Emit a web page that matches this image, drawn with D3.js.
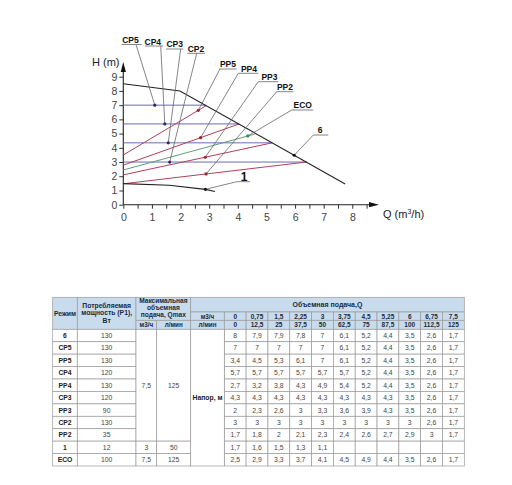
<!DOCTYPE html>
<html>
<head>
<meta charset="utf-8">
<script src="https://cdn.jsdelivr.net/npm/d3@7"></script>
<style>
  body { margin: 0; background: #fff; }
  svg { display: block; font-family: "Liberation Sans", Arial, sans-serif; }
</style>
</head>
<body>
<div id="chart"></div>
<script>
// ---- chart data: Q (m3/h), H (m)
const qTicks = [0, 1, 2, 3, 4, 5, 6, 7, 8];
const qMinorTicks = [0, 0.5, 1, 1.5, 2, 2.5, 3, 3.5, 4, 4.5, 5, 5.5, 6, 6.5, 7, 7.5, 8, 8.5];
const hTicks = [0, 1, 2, 3, 4, 5, 6, 7, 8, 9];

const curve6   = [[0, 8.5], [1.98, 8.0], [7.75, 1.46]];
const curveCP5 = [[0, 7.0], [2.88, 7.0]];
const curveCP4 = [[0, 5.68], [4.05, 5.68]];
const curveCP3 = [[0, 4.35], [5.2, 4.35]];
const curveCP2 = [[0, 3.0], [6.4, 3.0]];
const curvePP5 = [[0, 3.5], [2.9, 6.97]];
const curvePP4 = [[0, 2.78], [4.05, 5.68]];
const curveECO = [[0, 2.44], [4.6, 4.97]];
const curvePP3 = [[0, 2.1], [5.2, 4.35]];
const curvePP2 = [[0, 1.47], [6.4, 3.0]];
const curve1   = [[0, 1.48], [1.6, 1.37], [2.87, 1.08], [3.2, 0.93]];

const curveNames  = ['CP5', 'CP4', 'CP3', 'CP2', 'PP5', 'PP4', 'ECO', 'PP3', 'PP2', '6', '1'];
const curveKinds  = ['cp', 'cp', 'cp', 'cp', 'pp', 'pp', 'eco', 'pp', 'pp', 'max', 'min'];
const curveData   = [curveCP5, curveCP4, curveCP3, curveCP2, curvePP5, curvePP4, curveECO, curvePP3, curvePP2, curve6, curve1];
const markerQ     = [1.1, 1.45, 1.57, 1.62, 2.62, 2.7, 4.35, 2.86, 2.89, 5.97, 2.87];

// ---- table data
const modes   = ['6', 'CP5', 'PP5', 'CP4', 'PP4', 'CP3', 'PP3', 'CP2', 'PP2', '1', 'ECO'];
const powerW  = [130, 130, 130, 120, 130, 120, 90, 130, 35, 12, 100];
const flowM3h = [0, 0.75, 1.5, 2.25, 3, 3.75, 4.5, 5.25, 6, 6.75, 7.5];
const flowLmin = [0, 12.5, 25, 37.5, 50, 62.5, 75, 87.5, 100, 112.5, 125];
const qmaxM3h  = [7.5, 3, 7.5];
const qmaxLmin = [125, 50, 125];
const qmaxSpan = [[0, 8], [9, 9], [10, 10]];
const headRows = [
  [8, 7.9, 7.9, 7.8, 7, 6.1, 5.2, 4.4, 3.5, 2.6, 1.7],
  [7, 7, 7, 7, 7, 6.1, 5.2, 4.4, 3.5, 2.6, 1.7],
  [3.4, 4.5, 5.3, 6.1, 7, 6.1, 5.2, 4.4, 3.5, 2.6, 1.7],
  [5.7, 5.7, 5.7, 5.7, 5.7, 5.7, 5.2, 4.4, 3.5, 2.6, 1.7],
  [2.7, 3.2, 3.8, 4.3, 4.9, 5.4, 5.2, 4.4, 3.5, 2.6, 1.7],
  [4.3, 4.3, 4.3, 4.3, 4.3, 4.3, 4.3, 4.3, 3.5, 2.6, 1.7],
  [2, 2.3, 2.6, 3, 3.3, 3.6, 3.9, 4.3, 3.5, 2.6, 1.7],
  [3, 3, 3, 3, 3, 3, 3, 3, 3, 2.6, 1.7],
  [1.7, 1.8, 2, 2.1, 2.3, 2.4, 2.6, 2.7, 2.9, 3, 1.7],
  [1.7, 1.6, 1.5, 1.3, 1.1, null, null, null, null, null, null],
  [2.5, 2.9, 3.3, 3.7, 4.1, 4.5, 4.9, 4.4, 3.5, 2.6, 1.7]
];

// ---- styles / layout
const lineColor = { cp: '#6a6ab4', pp: '#b0405a', eco: '#5e9e78', max: '#222', min: '#222' };
const dotColor  = { cp: '#2a2a70', pp: '#a02030', eco: '#3c8a5a', max: '#111', min: '#111' };
// callout: text x, text y (centre), underline x1, x2, y, leader start x
const callout = {
  CP5: [130.5, 39.5, 121.7, 141.7, 44.5, 136],
  CP4: [152.8, 41.7, 145, 163.3, 46, 160.7],
  CP3: [174.7, 44.3, 166, 183.3, 49, 180.7],
  CP2: [196, 49, 187.3, 205, 53.3, 196.7],
  PP5: [228, 64.3, 219.3, 236.7, 69, 220],
  PP4: [249, 69, 238.3, 258.3, 73.3, 238.3],
  PP3: [269.5, 76.7, 258.3, 278.3, 81.7, 258.3],
  PP2: [285, 87.3, 276.7, 293.3, 91.7, 276.7],
  ECO: [302.7, 105, 291.7, 313.3, 110, 291.7],
  '6': [320, 130, 313.3, 328.3, 135, 313.3],
  '1': [244, 176.5, 236.7, 250, 181.7, 236.7]
};

const W = 512, H = 485;
const svg = d3.select('#chart').append('svg').attr('width', W).attr('height', H);

const x = d3.scaleLinear().domain([0, 8]).range([123.3, 352.3]);
const y = d3.scaleLinear().domain([0, 9]).range([204.7, 76.7]);

// axes
const xAxis = svg.append('g')
  .attr('transform', `translate(0,${y(0)})`)
  .call(d3.axisBottom(x).tickValues(qMinorTicks).tickSize(4).tickPadding(5)
    .tickFormat(d => qTicks.includes(d) ? d : ''));
const yAxis = svg.append('g')
  .attr('transform', `translate(${x(0)},0)`)
  .call(d3.axisLeft(y).tickValues(hTicks).tickSize(4).tickPadding(2));
[xAxis, yAxis].forEach(g => {
  g.select('.domain').remove();
  g.selectAll('line').attr('stroke', '#333');
  g.selectAll('text').attr('font-size', 10.5).attr('fill', '#444')
    .attr('font-family', '"Liberation Sans", Arial, sans-serif');
});

svg.append('line').attr('x1', x(0)).attr('x2', x(0)).attr('y1', y(0)).attr('y2', 68)
  .attr('stroke', '#222').attr('stroke-width', 1.1);
svg.append('path').attr('d', `M${x(0)},62 L${x(0) - 2.6},72 L${x(0) + 2.6},72 Z`).attr('fill', '#111');
svg.append('line').attr('x1', x(0)).attr('x2', 372).attr('y1', y(0)).attr('y2', y(0))
  .attr('stroke', '#222').attr('stroke-width', 1.1);
svg.append('path').attr('d', `M379,${y(0)} L369,${y(0) - 2.6} L369,${y(0) + 2.6} Z`).attr('fill', '#111');

svg.append('text').attr('x', 92).attr('y', 66).attr('font-size', 11).attr('fill', '#222').text('H (m)');
const qLabel = svg.append('text').attr('x', 383).attr('y', 218).attr('font-size', 11).attr('fill', '#222');
qLabel.append('tspan').text('Q (m');
qLabel.append('tspan').attr('font-size', 7).attr('dy', -4).text('3');
qLabel.append('tspan').attr('dy', 4).text('/h)');

// curves
const line = d3.line().x(d => x(d[0])).y(d => y(d[1]));
curveData.forEach((pts, i) => {
  const k = curveKinds[i];
  svg.append('path').datum(pts).attr('d', line).attr('fill', 'none')
    .attr('stroke', lineColor[k]).attr('stroke-width', k === 'max' || k === 'min' ? 1.1 : 1);
});

function hAt(pts, q) {
  for (let j = 1; j < pts.length; j++) {
    if (q <= pts[j][0]) {
      const t = (q - pts[j - 1][0]) / (pts[j][0] - pts[j - 1][0]);
      return pts[j - 1][1] + t * (pts[j][1] - pts[j - 1][1]);
    }
  }
  return pts[pts.length - 1][1];
}

// callouts
curveNames.forEach((name, i) => {
  const c = callout[name];
  const k = curveKinds[i];
  const mq = markerQ[i], mh = hAt(curveData[i], mq);
  svg.append('line').attr('x1', c[5]).attr('y1', c[4]).attr('x2', x(mq)).attr('y2', y(mh))
    .attr('stroke', '#666').attr('stroke-width', 0.8);
  svg.append('line').attr('x1', c[2]).attr('x2', c[3]).attr('y1', c[4]).attr('y2', c[4])
    .attr('stroke', '#666').attr('stroke-width', 0.8);
  svg.append('circle').attr('cx', x(mq)).attr('cy', y(mh)).attr('r', 1.6).attr('fill', dotColor[k]);
  svg.append('text').attr('x', c[0]).attr('y', c[1]).attr('text-anchor', 'middle')
    .attr('dominant-baseline', 'central').attr('font-weight', 'bold')
    .attr('font-size', name === '1' ? 12 : 8.5).attr('fill', '#111').text(name);
});

// ---- table
const fmt = v => v == null ? '' : String(v).replace('.', ',');
const colX = [52.7, 77.3, 136, 156.7, 190.7, 224.3];
const qColW = (464.3 - 224.3) / flowM3h.length;
flowM3h.forEach((d, i) => colX.push(224.3 + (i + 1) * qColW));
const hdrY = [297.3, 312, 320.3, 329.3];
const rowH = (466 - 329.3) / modes.length;
const rowY = d3.range(modes.length + 1).map(i => 329.3 + i * rowH);

const tbl = svg.append('g');
const hdrFill = '#c9dcee', gridCol = '#9a9a9a', hdrText = '#1c2b3a';

function cell(x0, x1, y0, y1, fill) {
  tbl.append('rect').attr('x', x0).attr('y', y0).attr('width', x1 - x0).attr('height', y1 - y0)
    .attr('fill', fill).attr('stroke', gridCol).attr('stroke-width', 0.7);
}
function txt(cx, cy, s, opts = {}) {
  tbl.append('text').attr('x', cx).attr('y', cy).attr('text-anchor', 'middle')
    .attr('dominant-baseline', 'central').attr('font-size', opts.size || 6.8)
    .attr('font-weight', opts.bold ? 'bold' : 'normal').attr('fill', opts.color || '#444').text(s);
}
const mid = (a, b) => (a + b) / 2;

// header
cell(colX[0], colX[1], hdrY[0], hdrY[3], hdrFill);
txt(mid(colX[0], colX[1]), 313.3, 'Режим', { bold: true, color: hdrText });
cell(colX[1], colX[2], hdrY[0], hdrY[3], hdrFill);
['Потребляемая', 'мощность (P1),', 'Вт'].forEach((s, i) =>
  txt(mid(colX[1], colX[2]), 305 + i * 7.8, s, { bold: true, color: hdrText }));
cell(colX[2], colX[4], hdrY[0], hdrY[2], hdrFill);
['Максимальная', 'объемная', 'подача, Qmax'].forEach((s, i) =>
  txt(mid(colX[2], colX[4]), 300.6 + i * 6.9, s, { bold: true, color: hdrText, size: 6.6 }));
cell(colX[2], colX[3], hdrY[2], hdrY[3], hdrFill);
txt(mid(colX[2], colX[3]), mid(hdrY[2], hdrY[3]), 'м3/ч', { bold: true, color: hdrText, size: 6.3 });
cell(colX[3], colX[4], hdrY[2], hdrY[3], hdrFill);
txt(mid(colX[3], colX[4]), mid(hdrY[2], hdrY[3]), 'л/мин', { bold: true, color: hdrText, size: 6.3 });
cell(colX[4], colX[colX.length - 1], hdrY[0], hdrY[1], hdrFill);
txt(mid(colX[4], colX[colX.length - 1]), mid(hdrY[0], hdrY[1]), 'Объемная подача,Q', { bold: true, color: hdrText, size: 7 });
cell(colX[4], colX[5], hdrY[1], hdrY[2], hdrFill);
txt(mid(colX[4], colX[5]), mid(hdrY[1], hdrY[2]), 'м3/ч', { bold: true, color: hdrText, size: 6.3 });
cell(colX[4], colX[5], hdrY[2], hdrY[3], hdrFill);
txt(mid(colX[4], colX[5]), mid(hdrY[2], hdrY[3]), 'л/мин', { bold: true, color: hdrText, size: 6.3 });
flowM3h.forEach((q, i) => {
  const a = colX[5 + i], b = colX[6 + i];
  cell(a, b, hdrY[1], hdrY[2], hdrFill);
  txt(mid(a, b), mid(hdrY[1], hdrY[2]), fmt(q), { bold: true, color: hdrText, size: 6.5 });
  cell(a, b, hdrY[2], hdrY[3], hdrFill);
  txt(mid(a, b), mid(hdrY[2], hdrY[3]), fmt(flowLmin[i]), { bold: true, color: hdrText, size: 6.5 });
});

// body
modes.forEach((m, r) => {
  const y0 = rowY[r], y1 = rowY[r + 1];
  cell(colX[0], colX[1], y0, y1, '#fff');
  txt(mid(colX[0], colX[1]), mid(y0, y1), m, { bold: true, color: '#222' });
  cell(colX[1], colX[2], y0, y1, '#fff');
  txt(mid(colX[1], colX[2]), mid(y0, y1), powerW[r]);
  headRows[r].forEach((v, i) => {
    const a = colX[5 + i], b = colX[6 + i];
    cell(a, b, y0, y1, '#fff');
    txt(mid(a, b), mid(y0, y1), fmt(v));
  });
});
qmaxSpan.forEach((s, g) => {
  const y0 = rowY[s[0]], y1 = rowY[s[1] + 1];
  cell(colX[2], colX[3], y0, y1, '#fff');
  txt(mid(colX[2], colX[3]), mid(y0, y1), fmt(qmaxM3h[g]));
  cell(colX[3], colX[4], y0, y1, '#fff');
  txt(mid(colX[3], colX[4]), mid(y0, y1), fmt(qmaxLmin[g]));
});
cell(colX[4], colX[5], rowY[0], rowY[modes.length], '#fff');
txt(mid(colX[4], colX[5]), mid(rowY[0], rowY[modes.length]), 'Напор, м', { bold: true, color: '#222' });
</script>
</body>
</html>
